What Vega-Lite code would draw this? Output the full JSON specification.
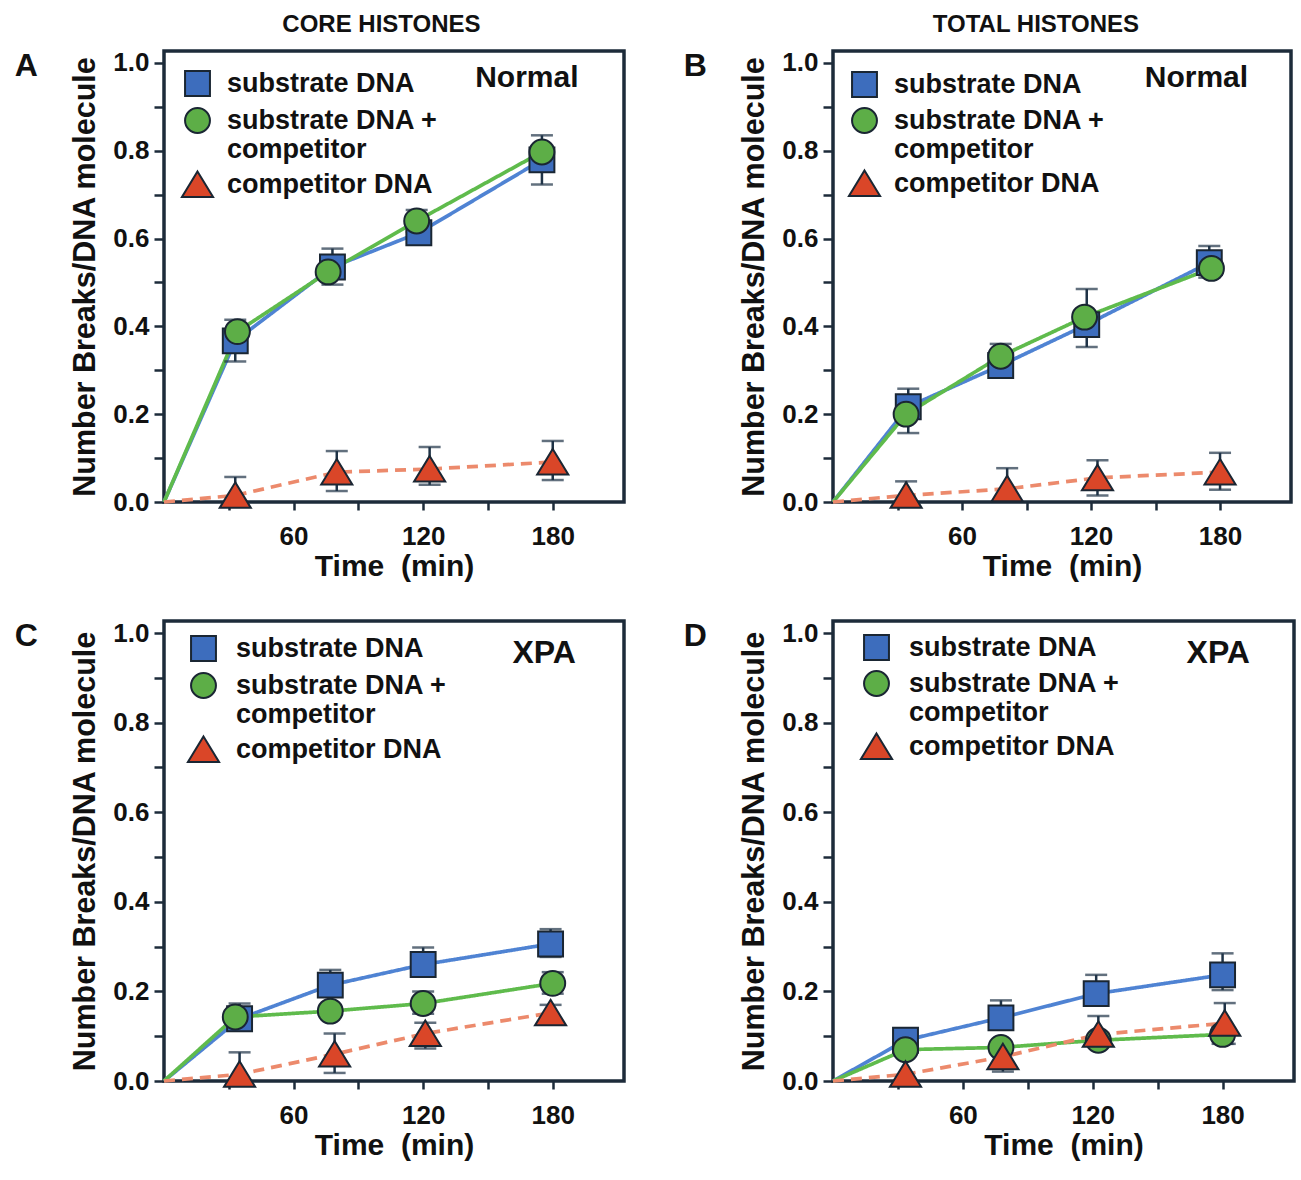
{
  "$schema": "https://vega.github.io/schema/vega-lite/v6.json",
  "background": "white",
  "padding": {"left": 13, "top": 13, "right": 2, "bottom": 2},
  "datasets": {
    "pts": [
      {"panel":"A","s":"substrate DNA","t":0,"v":0},
      {"panel":"A","s":"substrate DNA","t":33,"v":0.367,"lo":0.32,"hi":0.415},
      {"panel":"A","s":"substrate DNA","t":78,"v":0.535,"lo":0.495,"hi":0.577},
      {"panel":"A","s":"substrate DNA","t":118,"v":0.613},
      {"panel":"A","s":"substrate DNA","t":175,"v":0.779,"lo":0.723,"hi":0.835},
      {"panel":"A","s":"substrate DNA + competitor","t":0,"v":0},
      {"panel":"A","s":"substrate DNA + competitor","t":34,"v":0.388},
      {"panel":"A","s":"substrate DNA + competitor","t":76,"v":0.524},
      {"panel":"A","s":"substrate DNA + competitor","t":117,"v":0.64,"lo":0.615,"hi":0.665},
      {"panel":"A","s":"substrate DNA + competitor","t":175,"v":0.797},
      {"panel":"A","s":"competitor DNA","t":0,"v":0},
      {"panel":"A","s":"competitor DNA","t":33,"v":0.015,"lo":0,"hi":0.057},
      {"panel":"A","s":"competitor DNA","t":80,"v":0.068,"lo":0.025,"hi":0.116},
      {"panel":"A","s":"competitor DNA","t":123,"v":0.075,"lo":0.039,"hi":0.125},
      {"panel":"A","s":"competitor DNA","t":180,"v":0.091,"lo":0.05,"hi":0.139},

      {"panel":"B","s":"substrate DNA","t":0,"v":0},
      {"panel":"B","s":"substrate DNA","t":35,"v":0.217,"lo":0.157,"hi":0.258},
      {"panel":"B","s":"substrate DNA","t":78,"v":0.311,"lo":0.3,"hi":0.36},
      {"panel":"B","s":"substrate DNA","t":118,"v":0.404,"lo":0.353,"hi":0.485},
      {"panel":"B","s":"substrate DNA","t":175,"v":0.545,"lo":0.511,"hi":0.583},
      {"panel":"B","s":"substrate DNA + competitor","t":0,"v":0},
      {"panel":"B","s":"substrate DNA + competitor","t":34,"v":0.2},
      {"panel":"B","s":"substrate DNA + competitor","t":78,"v":0.332},
      {"panel":"B","s":"substrate DNA + competitor","t":117,"v":0.421},
      {"panel":"B","s":"substrate DNA + competitor","t":176,"v":0.532},
      {"panel":"B","s":"competitor DNA","t":0,"v":0},
      {"panel":"B","s":"competitor DNA","t":34,"v":0.015,"lo":0,"hi":0.047},
      {"panel":"B","s":"competitor DNA","t":81,"v":0.03,"lo":0.01,"hi":0.077},
      {"panel":"B","s":"competitor DNA","t":123,"v":0.055,"lo":0.015,"hi":0.095},
      {"panel":"B","s":"competitor DNA","t":180,"v":0.068,"lo":0.028,"hi":0.112},

      {"panel":"C","s":"substrate DNA","t":0,"v":0},
      {"panel":"C","s":"substrate DNA","t":35,"v":0.139,"lo":0.12,"hi":0.173},
      {"panel":"C","s":"substrate DNA","t":77,"v":0.214,"lo":0.19,"hi":0.248},
      {"panel":"C","s":"substrate DNA","t":120,"v":0.26,"lo":0.24,"hi":0.298},
      {"panel":"C","s":"substrate DNA","t":179,"v":0.306,"lo":0.277,"hi":0.339},
      {"panel":"C","s":"substrate DNA + competitor","t":0,"v":0},
      {"panel":"C","s":"substrate DNA + competitor","t":33,"v":0.143},
      {"panel":"C","s":"substrate DNA + competitor","t":77,"v":0.156},
      {"panel":"C","s":"substrate DNA + competitor","t":120,"v":0.173,"lo":0.15,"hi":0.2},
      {"panel":"C","s":"substrate DNA + competitor","t":180,"v":0.218,"lo":0.195,"hi":0.243},
      {"panel":"C","s":"competitor DNA","t":0,"v":0},
      {"panel":"C","s":"competitor DNA","t":35,"v":0.015,"lo":0,"hi":0.064},
      {"panel":"C","s":"competitor DNA","t":79,"v":0.06,"lo":0.018,"hi":0.106},
      {"panel":"C","s":"competitor DNA","t":121,"v":0.106,"lo":0.0725,"hi":0.13},
      {"panel":"C","s":"competitor DNA","t":179,"v":0.152,"lo":0.127,"hi":0.17},

      {"panel":"D","s":"substrate DNA","t":0,"v":0},
      {"panel":"D","s":"substrate DNA","t":33.5,"v":0.091,"lo":0.075,"hi":0.116},
      {"panel":"D","s":"substrate DNA","t":77.6,"v":0.141,"lo":0.12,"hi":0.18},
      {"panel":"D","s":"substrate DNA","t":121.6,"v":0.195,"lo":0.175,"hi":0.237},
      {"panel":"D","s":"substrate DNA","t":180,"v":0.237,"lo":0.203,"hi":0.285},
      {"panel":"D","s":"substrate DNA + competitor","t":0,"v":0},
      {"panel":"D","s":"substrate DNA + competitor","t":33.5,"v":0.07},
      {"panel":"D","s":"substrate DNA + competitor","t":77.6,"v":0.075},
      {"panel":"D","s":"substrate DNA + competitor","t":122.6,"v":0.091},
      {"panel":"D","s":"substrate DNA + competitor","t":180,"v":0.104,"lo":0.083,"hi":0.12},
      {"panel":"D","s":"competitor DNA","t":0,"v":0},
      {"panel":"D","s":"competitor DNA","t":33.5,"v":0.015},
      {"panel":"D","s":"competitor DNA","t":78.5,"v":0.054,"lo":0.021,"hi":0.08},
      {"panel":"D","s":"competitor DNA","t":122.6,"v":0.104,"lo":0.08,"hi":0.145},
      {"panel":"D","s":"competitor DNA","t":181,"v":0.129,"lo":0.083,"hi":0.174}
    ],
    "notes": [
      {"panel":"A","note":"Normal"},
      {"panel":"B","note":"Normal"},
      {"panel":"C","note":"XPA"},
      {"panel":"D","note":"XPA"}
    ]
  },
  "spacing": 56,
  "resolve": {
    "scale": {"fill":"independent","shape":"independent","stroke":"independent","strokeDash":"independent"},
    "legend": {"fill":"independent","shape":"independent"}
  },
  "hconcat": [
    {
      "title": {"text":"CORE HISTONES","fontSize":24,"fontWeight":"bold","anchor":"middle","offset":11,"dx":62},
      "spacing": 35,
      "resolve": {
        "scale": {"fill":"independent","shape":"independent","stroke":"independent","strokeDash":"independent"},
        "legend": {"fill":"independent","shape":"independent"}
      },
      "vconcat": [
        {
          "width": 460, "height": 451,
          "title": {"text":"A","anchor":"start","frame":"bounds","fontSize":32,"fontWeight":"bold","dx":-56,"dy":33,"offset":0},
          "layer": [
            {"data":{"name":"pts"},"transform":[{"filter":"datum.panel == 'A'"}],
             "mark":{"type":"line","strokeWidth":3.7},
             "encoding":{
               "x":{"field":"t","type":"quantitative","scale":{"domain":[0,213],"nice":false},"title":"Time\u00a0 (min)","axis":{"values":[30,60,90,120,150,180],"labelExpr":"datum.value % 60 == 0 ? datum.label : ''"}},
               "y":{"field":"v","type":"quantitative","scale":{"domain":[0,1.027],"nice":false},"title":"Number Breaks/DNA molecule","axis":{"values":[0,0.1,0.2,0.3,0.4,0.5,0.6,0.7,0.8,0.9,1.0],"labelExpr":"round(datum.value*10) % 2 == 0 ? format(datum.value, '.1f') : ''"}},
               "stroke":{"field":"s","type":"nominal","scale":{"domain":["competitor DNA","substrate DNA","substrate DNA + competitor"],"range":["#ec8a6c","#4f83d3","#5fbb4c"]},"legend":null},
               "strokeDash":{"field":"s","type":"nominal","scale":{"domain":["competitor DNA","substrate DNA","substrate DNA + competitor"],"range":[[11,7],[1,0],[1,0]]},"legend":null}
             }},
            {"data":{"name":"pts"},"transform":[{"filter":"datum.panel == 'A' && isValid(datum.lo)"}],
             "mark":{"type":"errorbar","color":"#1f3347","thickness":2.5,"ticks":{"size":22}},
             "encoding":{
               "x":{"field":"t","type":"quantitative","title":"Time\u00a0 (min)"},
               "y":{"field":"lo","type":"quantitative","title":"Number Breaks/DNA molecule"},
               "y2":{"field":"hi"}
             }},
            {"data":{"name":"pts"},"transform":[{"filter":"datum.panel == 'A' && datum.t > 0"}],
             "mark":{"type":"point","filled":true,"opacity":1,"stroke":"#1a2633","strokeWidth":2,"size":620},
             "encoding":{
               "x":{"field":"t","type":"quantitative","title":"Time\u00a0 (min)"},
               "y":{"field":"v","type":"quantitative","title":"Number Breaks/DNA molecule"},
               "fill":{"field":"s","type":"nominal","scale":{"domain":["substrate DNA","substrate DNA + competitor","competitor DNA"],"range":["#3d6dbd","#5dae47","#da4628"]},
                 "legend":{"orient":"none","legendX":20,"legendY":19,"title":null,"padding":0,"labelFontSize":27,"labelFontWeight":"bold","labelColor":"#111111","symbolSize":620,"symbolStrokeColor":"#1a2633","symbolStrokeWidth":2,"labelOffset":16,"rowPadding":4,"labelLimit":400,
                   "labelExpr":"datum.label == 'substrate DNA + competitor' ? ['substrate DNA +', 'competitor'] : datum.label"}},
               "shape":{"field":"s","type":"nominal","scale":{"domain":["substrate DNA","substrate DNA + competitor","competitor DNA"],"range":["square","circle","M0,-1.05L1.25,1L-1.25,1Z"]}}
             }},
            {"data":{"name":"notes"},"transform":[{"filter":"datum.panel == 'A'"}],
             "mark":{"type":"text","fontSize":30,"fontWeight":"bold","align":"center","baseline":"middle","color":"#111111"},
             "encoding":{"x":{"datum":168,"type":"quantitative"},"y":{"datum":0.965,"type":"quantitative"},"text":{"field":"note"}}}
          ]
        },
        {
          "width": 460, "height": 460,
          "title": {"text":"C","anchor":"start","frame":"bounds","fontSize":32,"fontWeight":"bold","dx":-56,"dy":33,"offset":0},
          "layer": [
            {"data":{"name":"pts"},"transform":[{"filter":"datum.panel == 'C'"}],
             "mark":{"type":"line","strokeWidth":3.7},
             "encoding":{
               "x":{"field":"t","type":"quantitative","scale":{"domain":[0,213],"nice":false},"title":"Time\u00a0 (min)","axis":{"values":[30,60,90,120,150,180],"labelExpr":"datum.value % 60 == 0 ? datum.label : ''"}},
               "y":{"field":"v","type":"quantitative","scale":{"domain":[0,1.027],"nice":false},"title":"Number Breaks/DNA molecule","axis":{"values":[0,0.1,0.2,0.3,0.4,0.5,0.6,0.7,0.8,0.9,1.0],"labelExpr":"round(datum.value*10) % 2 == 0 ? format(datum.value, '.1f') : ''"}},
               "stroke":{"field":"s","type":"nominal","scale":{"domain":["competitor DNA","substrate DNA","substrate DNA + competitor"],"range":["#ec8a6c","#4f83d3","#5fbb4c"]},"legend":null},
               "strokeDash":{"field":"s","type":"nominal","scale":{"domain":["competitor DNA","substrate DNA","substrate DNA + competitor"],"range":[[11,7],[1,0],[1,0]]},"legend":null}
             }},
            {"data":{"name":"pts"},"transform":[{"filter":"datum.panel == 'C' && isValid(datum.lo)"}],
             "mark":{"type":"errorbar","color":"#1f3347","thickness":2.5,"ticks":{"size":22}},
             "encoding":{
               "x":{"field":"t","type":"quantitative","title":"Time\u00a0 (min)"},
               "y":{"field":"lo","type":"quantitative","title":"Number Breaks/DNA molecule"},
               "y2":{"field":"hi"}
             }},
            {"data":{"name":"pts"},"transform":[{"filter":"datum.panel == 'C' && datum.t > 0"}],
             "mark":{"type":"point","filled":true,"opacity":1,"stroke":"#1a2633","strokeWidth":2,"size":620},
             "encoding":{
               "x":{"field":"t","type":"quantitative","title":"Time\u00a0 (min)"},
               "y":{"field":"v","type":"quantitative","title":"Number Breaks/DNA molecule"},
               "fill":{"field":"s","type":"nominal","scale":{"domain":["substrate DNA","substrate DNA + competitor","competitor DNA"],"range":["#3d6dbd","#5dae47","#da4628"]},
                 "legend":{"orient":"none","legendX":26,"legendY":14,"title":null,"padding":0,"labelFontSize":27,"labelFontWeight":"bold","labelColor":"#111111","symbolSize":620,"symbolStrokeColor":"#1a2633","symbolStrokeWidth":2,"labelOffset":19,"rowPadding":4,"labelLimit":400,
                   "labelExpr":"datum.label == 'substrate DNA + competitor' ? ['substrate DNA +', 'competitor'] : datum.label"}},
               "shape":{"field":"s","type":"nominal","scale":{"domain":["substrate DNA","substrate DNA + competitor","competitor DNA"],"range":["square","circle","M0,-1.05L1.25,1L-1.25,1Z"]}}
             }},
            {"data":{"name":"notes"},"transform":[{"filter":"datum.panel == 'C'"}],
             "mark":{"type":"text","fontSize":32,"fontWeight":"bold","align":"center","baseline":"middle","color":"#111111"},
             "encoding":{"x":{"datum":176,"type":"quantitative"},"y":{"datum":0.955,"type":"quantitative"},"text":{"field":"note"}}}
          ]
        }
      ]
    },
    {
      "title": {"text":"TOTAL HISTONES","fontSize":24,"fontWeight":"bold","anchor":"middle","offset":11,"dx":47},
      "spacing": 35,
      "resolve": {
        "scale": {"fill":"independent","shape":"independent","stroke":"independent","strokeDash":"independent"},
        "legend": {"fill":"independent","shape":"independent"}
      },
      "vconcat": [
        {
          "width": 458, "height": 451,
          "title": {"text":"B","anchor":"start","frame":"bounds","fontSize":32,"fontWeight":"bold","dx":-56,"dy":33,"offset":0},
          "layer": [
            {"data":{"name":"pts"},"transform":[{"filter":"datum.panel == 'B'"}],
             "mark":{"type":"line","strokeWidth":3.7},
             "encoding":{
               "x":{"field":"t","type":"quantitative","scale":{"domain":[0,213],"nice":false},"title":"Time\u00a0 (min)","axis":{"values":[30,60,90,120,150,180],"labelExpr":"datum.value % 60 == 0 ? datum.label : ''"}},
               "y":{"field":"v","type":"quantitative","scale":{"domain":[0,1.027],"nice":false},"title":"Number Breaks/DNA molecule","axis":{"values":[0,0.1,0.2,0.3,0.4,0.5,0.6,0.7,0.8,0.9,1.0],"labelExpr":"round(datum.value*10) % 2 == 0 ? format(datum.value, '.1f') : ''"}},
               "stroke":{"field":"s","type":"nominal","scale":{"domain":["competitor DNA","substrate DNA","substrate DNA + competitor"],"range":["#ec8a6c","#4f83d3","#5fbb4c"]},"legend":null},
               "strokeDash":{"field":"s","type":"nominal","scale":{"domain":["competitor DNA","substrate DNA","substrate DNA + competitor"],"range":[[11,7],[1,0],[1,0]]},"legend":null}
             }},
            {"data":{"name":"pts"},"transform":[{"filter":"datum.panel == 'B' && isValid(datum.lo)"}],
             "mark":{"type":"errorbar","color":"#1f3347","thickness":2.5,"ticks":{"size":22}},
             "encoding":{
               "x":{"field":"t","type":"quantitative","title":"Time\u00a0 (min)"},
               "y":{"field":"lo","type":"quantitative","title":"Number Breaks/DNA molecule"},
               "y2":{"field":"hi"}
             }},
            {"data":{"name":"pts"},"transform":[{"filter":"datum.panel == 'B' && datum.t > 0"}],
             "mark":{"type":"point","filled":true,"opacity":1,"stroke":"#1a2633","strokeWidth":2,"size":620},
             "encoding":{
               "x":{"field":"t","type":"quantitative","title":"Time\u00a0 (min)"},
               "y":{"field":"v","type":"quantitative","title":"Number Breaks/DNA molecule"},
               "fill":{"field":"s","type":"nominal","scale":{"domain":["substrate DNA","substrate DNA + competitor","competitor DNA"],"range":["#3d6dbd","#5dae47","#da4628"]},
                 "legend":{"orient":"none","legendX":18,"legendY":20,"title":null,"padding":0,"labelFontSize":27,"labelFontWeight":"bold","labelColor":"#111111","symbolSize":620,"symbolStrokeColor":"#1a2633","symbolStrokeWidth":2,"labelOffset":16,"rowPadding":3,"labelLimit":400,
                   "labelExpr":"datum.label == 'substrate DNA + competitor' ? ['substrate DNA +', 'competitor'] : datum.label"}},
               "shape":{"field":"s","type":"nominal","scale":{"domain":["substrate DNA","substrate DNA + competitor","competitor DNA"],"range":["square","circle","M0,-1.05L1.25,1L-1.25,1Z"]}}
             }},
            {"data":{"name":"notes"},"transform":[{"filter":"datum.panel == 'B'"}],
             "mark":{"type":"text","fontSize":30,"fontWeight":"bold","align":"center","baseline":"middle","color":"#111111"},
             "encoding":{"x":{"datum":169,"type":"quantitative"},"y":{"datum":0.965,"type":"quantitative"},"text":{"field":"note"}}}
          ]
        },
        {
          "width": 461, "height": 460,
          "title": {"text":"D","anchor":"start","frame":"bounds","fontSize":32,"fontWeight":"bold","dx":-56,"dy":33,"offset":0},
          "layer": [
            {"data":{"name":"pts"},"transform":[{"filter":"datum.panel == 'D'"}],
             "mark":{"type":"line","strokeWidth":3.7},
             "encoding":{
               "x":{"field":"t","type":"quantitative","scale":{"domain":[0,213],"nice":false},"title":"Time\u00a0 (min)","axis":{"values":[30,60,90,120,150,180],"labelExpr":"datum.value % 60 == 0 ? datum.label : ''"}},
               "y":{"field":"v","type":"quantitative","scale":{"domain":[0,1.027],"nice":false},"title":"Number Breaks/DNA molecule","axis":{"values":[0,0.1,0.2,0.3,0.4,0.5,0.6,0.7,0.8,0.9,1.0],"labelExpr":"round(datum.value*10) % 2 == 0 ? format(datum.value, '.1f') : ''"}},
               "stroke":{"field":"s","type":"nominal","scale":{"domain":["competitor DNA","substrate DNA","substrate DNA + competitor"],"range":["#ec8a6c","#4f83d3","#5fbb4c"]},"legend":null},
               "strokeDash":{"field":"s","type":"nominal","scale":{"domain":["competitor DNA","substrate DNA","substrate DNA + competitor"],"range":[[11,7],[1,0],[1,0]]},"legend":null}
             }},
            {"data":{"name":"pts"},"transform":[{"filter":"datum.panel == 'D' && isValid(datum.lo)"}],
             "mark":{"type":"errorbar","color":"#1f3347","thickness":2.5,"ticks":{"size":22}},
             "encoding":{
               "x":{"field":"t","type":"quantitative","title":"Time\u00a0 (min)"},
               "y":{"field":"lo","type":"quantitative","title":"Number Breaks/DNA molecule"},
               "y2":{"field":"hi"}
             }},
            {"data":{"name":"pts"},"transform":[{"filter":"datum.panel == 'D' && datum.t > 0"}],
             "mark":{"type":"point","filled":true,"opacity":1,"stroke":"#1a2633","strokeWidth":2,"size":620},
             "encoding":{
               "x":{"field":"t","type":"quantitative","title":"Time\u00a0 (min)"},
               "y":{"field":"v","type":"quantitative","title":"Number Breaks/DNA molecule"},
               "fill":{"field":"s","type":"nominal","scale":{"domain":["substrate DNA","substrate DNA + competitor","competitor DNA"],"range":["#3d6dbd","#5dae47","#da4628"]},
                 "legend":{"orient":"none","legendX":30,"legendY":13,"title":null,"padding":0,"labelFontSize":27,"labelFontWeight":"bold","labelColor":"#111111","symbolSize":620,"symbolStrokeColor":"#1a2633","symbolStrokeWidth":2,"labelOffset":19,"rowPadding":3,"labelLimit":400,
                   "labelExpr":"datum.label == 'substrate DNA + competitor' ? ['substrate DNA +', 'competitor'] : datum.label"}},
               "shape":{"field":"s","type":"nominal","scale":{"domain":["substrate DNA","substrate DNA + competitor","competitor DNA"],"range":["square","circle","M0,-1.05L1.25,1L-1.25,1Z"]}}
             }},
            {"data":{"name":"notes"},"transform":[{"filter":"datum.panel == 'D'"}],
             "mark":{"type":"text","fontSize":32,"fontWeight":"bold","align":"center","baseline":"middle","color":"#111111"},
             "encoding":{"x":{"datum":178,"type":"quantitative"},"y":{"datum":0.955,"type":"quantitative"},"text":{"field":"note"}}}
          ]
        }
      ]
    }
  ],
  "config": {
    "font": "Liberation Sans",
    "view": {"stroke": "#1d2b3a", "strokeWidth": 3.5},
    "axis": {"domain": false, "grid": false, "tickColor": "#1d2b3a", "tickWidth": 2.5, "labelFontSize": 26, "labelFontWeight": "bold", "labelColor": "#111111", "titleFontSize": 30.5, "titleFontWeight": "bold", "titleColor": "#111111"},
    "axisX": {"tickSize": 8, "labelPadding": 13, "titlePadding": 2, "titleFontSize": 30},
    "axisY": {"tickSize": 10, "labelPadding": 5, "titlePadding": 12},
    "title": {"color": "#111111"}
  }
}
